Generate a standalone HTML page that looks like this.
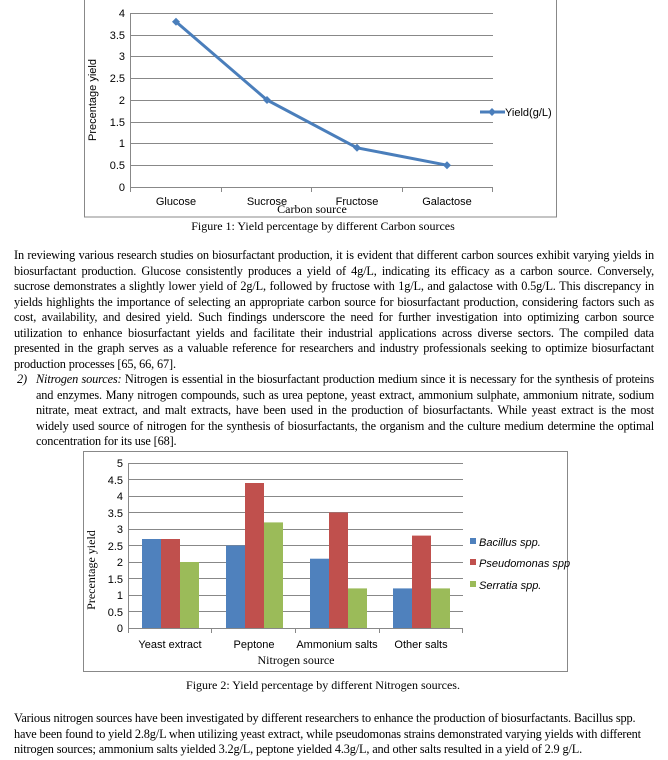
<!DOCTYPE html>
<html><head><meta charset="utf-8"><style>
body{margin:0;width:668px;height:760px;background:#fff;position:relative;overflow:hidden;font-family:"Liberation Serif",serif;color:#000}
.l{position:absolute;left:14px;width:640px;font-size:12.3px;line-height:15.5px;letter-spacing:-0.15px;white-space:nowrap;text-align:justify;text-align-last:justify}
.l.e{text-align-last:left}
.i{left:36px;width:618px}
svg{position:absolute;left:0;top:0}
</style></head><body>
<svg width="668" height="760" font-family="Liberation Sans, sans-serif">
<!-- chart 1 -->
<rect x="84.5" y="-1" width="472" height="218" fill="none" stroke="#888" stroke-width="1"/>
<g stroke="#888" stroke-width="1">
<line x1="130" y1="13.5" x2="493" y2="13.5"/><line x1="130" y1="35.5" x2="493" y2="35.5"/><line x1="130" y1="56.5" x2="493" y2="56.5"/><line x1="130" y1="78.5" x2="493" y2="78.5"/><line x1="130" y1="100.5" x2="493" y2="100.5"/><line x1="130" y1="122.5" x2="493" y2="122.5"/><line x1="130" y1="143.5" x2="493" y2="143.5"/><line x1="130" y1="165.5" x2="493" y2="165.5"/><line x1="130" y1="187.5" x2="493" y2="187.5"/>
<line x1="130.5" y1="13" x2="130.5" y2="187"/>
<line x1="130.5" y1="187" x2="130.5" y2="192"/><line x1="221.5" y1="187" x2="221.5" y2="192"/><line x1="311.5" y1="187" x2="311.5" y2="192"/><line x1="402.5" y1="187" x2="402.5" y2="192"/><line x1="492.5" y1="187" x2="492.5" y2="192"/>
</g>
<g font-size="11" text-anchor="end">
<text x="125" y="17">4</text><text x="125" y="39">3.5</text><text x="125" y="60">3</text><text x="125" y="82">2.5</text><text x="125" y="104">2</text><text x="125" y="126">1.5</text><text x="125" y="147">1</text><text x="125" y="169">0.5</text><text x="125" y="191">0</text>
</g>
<g font-size="11" text-anchor="middle">
<text x="176" y="205">Glucose</text><text x="267" y="205">Sucrose</text><text x="357" y="205">Fructose</text><text x="447" y="205">Galactose</text>
</g>
<text x="96" y="100" font-size="11" text-anchor="middle" transform="rotate(-90 96 100)">Precentage yield</text>
<text x="312" y="213" font-family="Liberation Serif, serif" font-size="12" text-anchor="middle">Carbon source</text>
<polyline points="176,21.7 267,100 357,147.8 447,165.2" fill="none" stroke="#4A7EBB" stroke-width="3"/>
<g fill="#4A7EBB">
<path d="M176,17.7l4,4l-4,4l-4,-4z"/><path d="M267,96l4,4l-4,4l-4,-4z"/><path d="M357,143.8l4,4l-4,4l-4,-4z"/><path d="M447,161.2l4,4l-4,4l-4,-4z"/>
<path d="M492,108l4,4l-4,4l-4,-4z"/>
</g>
<line x1="480" y1="112" x2="505" y2="112" stroke="#4A7EBB" stroke-width="3"/>
<text x="505" y="116" font-size="11">Yield(g/L)</text>
<text x="323" y="230" font-family="Liberation Serif, serif" font-size="12" text-anchor="middle">Figure 1: Yield percentage by different Carbon sources</text>

<!-- chart 2 -->
<rect x="83.5" y="451.5" width="484" height="220" fill="none" stroke="#888" stroke-width="1"/>
<g stroke="#888" stroke-width="1">
<line x1="128" y1="463.5" x2="463" y2="463.5"/><line x1="128" y1="479.5" x2="463" y2="479.5"/><line x1="128" y1="496.5" x2="463" y2="496.5"/><line x1="128" y1="512.5" x2="463" y2="512.5"/><line x1="128" y1="529.5" x2="463" y2="529.5"/><line x1="128" y1="545.5" x2="463" y2="545.5"/><line x1="128" y1="562.5" x2="463" y2="562.5"/><line x1="128" y1="578.5" x2="463" y2="578.5"/><line x1="128" y1="595.5" x2="463" y2="595.5"/><line x1="128" y1="611.5" x2="463" y2="611.5"/><line x1="128" y1="628.5" x2="463" y2="628.5"/>
<line x1="128.5" y1="463" x2="128.5" y2="633"/>
<line x1="211.5" y1="628" x2="211.5" y2="633"/><line x1="295.5" y1="628" x2="295.5" y2="633"/><line x1="379.5" y1="628" x2="379.5" y2="633"/><line x1="462.5" y1="628" x2="462.5" y2="633"/>
</g>
<g font-size="11" text-anchor="end">
<text x="123" y="467">5</text><text x="123" y="484">4.5</text><text x="123" y="500">4</text><text x="123" y="517">3.5</text><text x="123" y="533">3</text><text x="123" y="550">2.5</text><text x="123" y="566">2</text><text x="123" y="583">1.5</text><text x="123" y="599">1</text><text x="123" y="616">0.5</text><text x="123" y="632">0</text>
</g>
<g>
<rect x="142" y="539" width="19" height="89" fill="#4F81BD"/><rect x="161" y="539" width="19" height="89" fill="#C0504D"/><rect x="180" y="562" width="19" height="66" fill="#9BBB59"/>
<rect x="226" y="545.5" width="19" height="82.5" fill="#4F81BD"/><rect x="245" y="483" width="19" height="145" fill="#C0504D"/><rect x="264" y="522.4" width="19" height="105.6" fill="#9BBB59"/>
<rect x="310" y="558.7" width="19" height="69.3" fill="#4F81BD"/><rect x="329" y="512.5" width="19" height="115.5" fill="#C0504D"/><rect x="348" y="588.4" width="19" height="39.6" fill="#9BBB59"/>
<rect x="393" y="588.4" width="19" height="39.6" fill="#4F81BD"/><rect x="412" y="535.6" width="19" height="92.4" fill="#C0504D"/><rect x="431" y="588.4" width="19" height="39.6" fill="#9BBB59"/>
</g>
<g font-size="11" text-anchor="middle">
<text x="170" y="648">Yeast extract</text><text x="254" y="648">Peptone</text><text x="337" y="648">Ammonium salts</text><text x="421" y="648">Other salts</text>
</g>
<text x="95" y="570" font-family="Liberation Serif, serif" font-size="12" text-anchor="middle" transform="rotate(-90 95 570)">Precentage yield</text>
<text x="296" y="664" font-family="Liberation Serif, serif" font-size="12" text-anchor="middle">Nitrogen source</text>
<rect x="470" y="538" width="6" height="6" fill="#4F81BD"/><rect x="470" y="559" width="6" height="6" fill="#C0504D"/><rect x="470" y="581" width="6" height="6" fill="#9BBB59"/>
<g font-size="11" font-style="italic">
<text x="479" y="546">Bacillus spp.</text><text x="479" y="567">Pseudomonas spp</text><text x="479" y="589">Serratia spp.</text>
</g>
<text x="323" y="689" font-family="Liberation Serif, serif" font-size="12" text-anchor="middle">Figure 2: Yield percentage by different Nitrogen sources.</text>
</svg>

<div class="l" style="top:248px">In reviewing various research studies on biosurfactant production, it is evident that different carbon sources exhibit varying yields in</div>
<div class="l" style="top:263.5px">biosurfactant production. Glucose consistently produces a yield of 4g/L, indicating its efficacy as a carbon source. Conversely,</div>
<div class="l" style="top:279px">sucrose demonstrates a slightly lower yield of 2g/L, followed by fructose with 1g/L, and galactose with 0.5g/L. This discrepancy in</div>
<div class="l" style="top:294.5px">yields highlights the importance of selecting an appropriate carbon source for biosurfactant production, considering factors such as</div>
<div class="l" style="top:310px">cost, availability, and desired yield. Such findings underscore the need for further investigation into optimizing carbon source</div>
<div class="l" style="top:325.5px">utilization to enhance biosurfactant yields and facilitate their industrial applications across diverse sectors. The compiled data</div>
<div class="l" style="top:341px">presented in the graph serves as a valuable reference for researchers and industry professionals seeking to optimize biosurfactant</div>
<div class="l e" style="top:356.5px">production processes [65, 66, 67].</div>
<div class="l e" style="top:372px;left:17px"><i>2)</i></div>
<div class="l i" style="top:372px"><i>Nitrogen sources:</i> Nitrogen is essential in the biosurfactant production medium since it is necessary for the synthesis of proteins</div>
<div class="l i" style="top:387.5px">and enzymes. Many nitrogen compounds, such as urea peptone, yeast extract, ammonium sulphate, ammonium nitrate, sodium</div>
<div class="l i" style="top:403px">nitrate, meat extract, and malt extracts, have been used in the production of biosurfactants. While yeast extract is the most</div>
<div class="l i" style="top:418.5px">widely used source of nitrogen for the synthesis of biosurfactants, the organism and the culture medium determine the optimal</div>
<div class="l i e" style="top:434px">concentration for its use [68].</div>

<div class="l e" style="top:711px">Various nitrogen sources have been investigated by different researchers to enhance the production of biosurfactants. Bacillus spp.</div>
<div class="l e" style="top:726.5px">have been found to yield 2.8g/L when utilizing yeast extract, while pseudomonas strains demonstrated varying yields with different</div>
<div class="l e" style="top:742px">nitrogen sources; ammonium salts yielded 3.2g/L, peptone yielded 4.3g/L, and other salts resulted in a yield of 2.9 g/L.</div>
</body></html>
